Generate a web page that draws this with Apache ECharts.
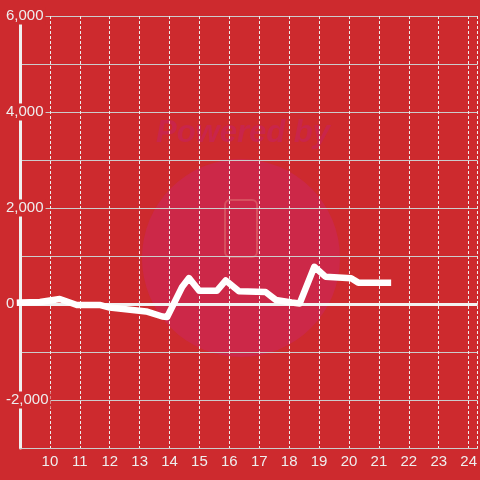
<!DOCTYPE html>
<html>
<head>
<meta charset="utf-8">
<script src="https://cdn.jsdelivr.net/npm/echarts@6/dist/echarts.min.js"></script>
<style>
html,body{margin:0;padding:0;background:#cd2a2e;}
#chart{width:480px;height:480px;}
</style>
</head>
<body>
<div id="chart"></div>
<script>
var hours = [9.0, 9.67, 10.33, 10.9, 11.66, 12.0, 12.76, 13.22, 13.76, 13.92, 14.42, 14.65, 14.99, 15.58, 15.88, 16.32, 17.21, 17.55, 18.08, 18.35, 18.84, 19.21, 20.07, 20.31, 21.3];
var values = [30, 40, 105, -20, -20, -75, -125, -155, -260, -270, 355, 540, 275, 275, 490, 265, 250, 85, 30, 10, 775, 570, 535, 445, 445];
var xTickLabels = [10, 11, 12, 13, 14, 15, 16, 17, 18, 19, 20, 21, 22, 23, 24];
var yTickLabels = [-2000, 0, 2000, 4000, 6000];

var points = hours.map(function (h, i) { return [h, values[i]]; });
var chart = echarts.init(document.getElementById('chart'), null, {renderer: 'canvas'});
var bg = '#cd2a2e';
chart.setOption({
  backgroundColor: bg,
  animation: false,
  textStyle: {fontFamily: 'Liberation Sans'},
  graphic: [
    {type: 'circle', z: -10, shape: {cx: 241, cy: 258, r: 99}, style: {fill: '#cc2848'}, silent: true},
    {type: 'text', z: -10, x: 243, y: 133, style: {text: 'Powered by', font: 'italic bold 31px sans-serif', fill: '#c9254a', align: 'center', verticalAlign: 'middle'}, silent: true},
    {type: 'rect', z: -9, shape: {x: 225, y: 200, width: 32, height: 57, r: 5}, style: {fill: 'none', stroke: '#d6505f', lineWidth: 2}, silent: true}
  ],
  grid: {left: 20, right: 0, top: 16, bottom: 32, containLabel: false},
  xAxis: {
    type: 'value',
    min: 9,
    max: 24.3,
    interval: 1,
    axisLine: {show: true, onZero: false, lineStyle: {color: '#cccccc', width: 1}},
    axisTick: {show: false},
    axisLabel: {
      customValues: xTickLabels,
      color: '#eeeeee',
      fontSize: 15,
      margin: 6,
      fontFamily: 'Liberation Sans'
    },
    splitLine: {show: true, lineStyle: {color: '#eeeeee', width: 1, type: [3, 2]}}
  },
  yAxis: {
    type: 'value',
    min: -3000,
    max: 6000,
    interval: 1000,
    axisLine: {show: true, lineStyle: {color: '#f0f0f0', width: 3}},
    axisTick: {show: false},
    axisLabel: {
      customValues: yTickLabels,
      color: '#eeeeee',
      fontSize: 15,
      align: 'left',
      margin: 15,
      backgroundColor: bg,
      padding: [1, 2, 1, 1],
      lineHeight: 15,
      fontFamily: 'Liberation Sans',
      formatter: function (v) { return v.toLocaleString('en-US'); }
    },
    splitLine: {show: true, lineStyle: {color: '#cccccc', width: 1}}
  },
  series: [{
    type: 'line',
    data: points,
    showSymbol: false,
    symbol: 'none',
    lineStyle: {color: '#ffffff', width: 6.5, cap: 'square', join: 'round'},
    z: 5,
    markLine: {
      silent: true,
      symbol: 'none',
      label: {show: false},
      z: 4,
      lineStyle: {color: '#f2f2f2', width: 3, type: 'solid'},
      data: [{yAxis: 0}]
    }
  }]
});
</script>
</body>
</html>
